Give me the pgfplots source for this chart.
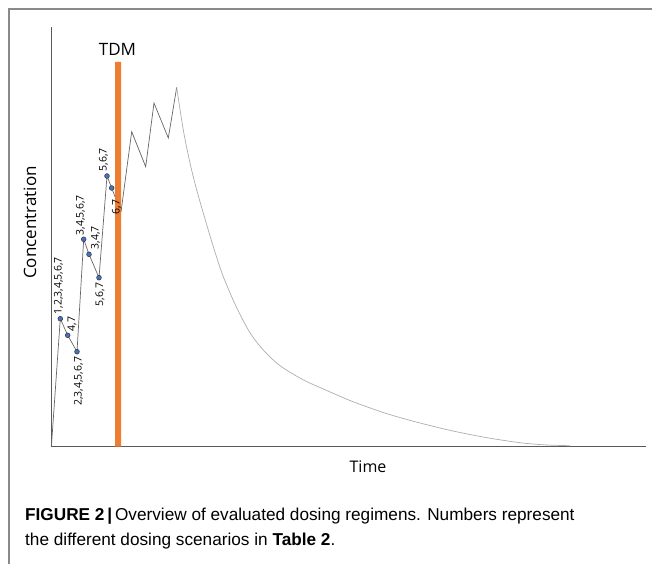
\documentclass[border=0pt]{standalone}
\usepackage{fontspec}
\setmainfont{Open Sans}
\newfontfamily\capfont{Liberation Sans}
\usepackage{pgfplots}
\pgfplotsset{compat=1.18}
\definecolor{tdmorange}{HTML}{ED7D31}
\definecolor{dotblue}{HTML}{4472C4}
\definecolor{framegray}{HTML}{8A8A8A}

\begin{document}
\begin{tikzpicture}[x=1pt,y=1pt]
\path[use as bounding box] (0,0) rectangle (652,564);
% figure frame (open at right and bottom)
\draw[framegray, line width=1.3pt] (9,0) -- (9,555) -- (652,555);

\begin{axis}[
  at={(51pt,117.3pt)}, anchor=south west,
  scale only axis, width=595pt, height=419.7pt,
  xmin=51, xmax=646, ymin=0, ymax=419.7,
  axis x line*=bottom, axis y line*=left,
  axis line style={black!65, line width=0.9pt},
  ticks=none, clip=false,
]
% TDM bar
\addplot[fill=tdmorange, draw=none] coordinates {(115,0) (115,384.7) (121,384.7) (121,0)} \closedcycle;
\node[font=\fontsize{17}{20}\selectfont] at (axis cs:117.5,397.4) {TDM};

% dosing before TDM
\addplot[black!60, line width=0.7pt] coordinates {
  (51.5,2) (60.3,128) (67.7,111.4) (77,95) (83.7,207.4) (89,192.4)
  (99,169) (107,270.7) (111.7,258.7) (115,250)};
% dosing after TDM
\addplot[black!60, line width=0.7pt] coordinates {
  (121,234.7) (131.7,315) (145.7,280) (154,343.7) (168.3,308.7) (176.7,359.4)};
% elimination
\addplot[black!32, line width=0.7pt, smooth] coordinates {
  (176.7,359.4) (183.3,316.7) (190,283.7) (196.7,256.7) (203.3,233.7)
  (213.3,200) (223.3,170) (236.7,139) (250,114) (263.3,96.7)
  (280,81) (303,67) (325,57) (353,45) (387,33)
  (420,23.7) (453,15.7) (487,9) (520,4) (545,1.8) (570,1.0)};

% sampling points
\addplot[only marks, mark=*, mark size=2.4pt, mark options={fill=dotblue, draw=black!80, line width=0.5pt}]
  coordinates {(60.3,128) (67.7,111.4) (77,95) (83.7,207.4) (89,192.4)
  (99,169) (107,270.7) (111.7,258.7)};

\begin{scope}[every node/.style={font=\fontsize{10.5}{12}\selectfont, rotate=90, inner sep=1pt}]
\node[anchor=west] at (axis cs:58.5,131) {1,2,3,4,5,6,7};
\node[anchor=west] at (axis cs:72,114) {4,7};
\node[anchor=east] at (axis cs:78.5,91) {2,3,4,5,6,7};
\node[anchor=west] at (axis cs:80.5,210) {3,4,5,6,7};
\node[anchor=west] at (axis cs:95.5,196) {3,4,7};
\node[anchor=east] at (axis cs:100,165) {5,6,7};
\node[anchor=west] at (axis cs:103.5,274) {5,6,7};
\node[anchor=east] at (axis cs:116.5,248) {6,7};
\end{scope}

\node[rotate=90, font=\fontsize{17}{20}\selectfont] at (axis cs:30,224.2) {Concentration};
\node[font=\fontsize{16}{19}\selectfont] at (axis cs:368,-20.3) {Time};
\end{axis}

\node[anchor=west, font=\capfont\fontsize{17.2}{20}\selectfont, inner sep=0pt] at (25,48)
  {\textbf{FIGURE 2}\,\textbf{|}\,Overview of evaluated dosing regimens. Numbers represent};
\node[anchor=west, font=\capfont\fontsize{17.2}{20}\selectfont, inner sep=0pt] at (25,23)
  {the different dosing scenarios in \textbf{Table 2}.};
\end{tikzpicture}
\end{document}
